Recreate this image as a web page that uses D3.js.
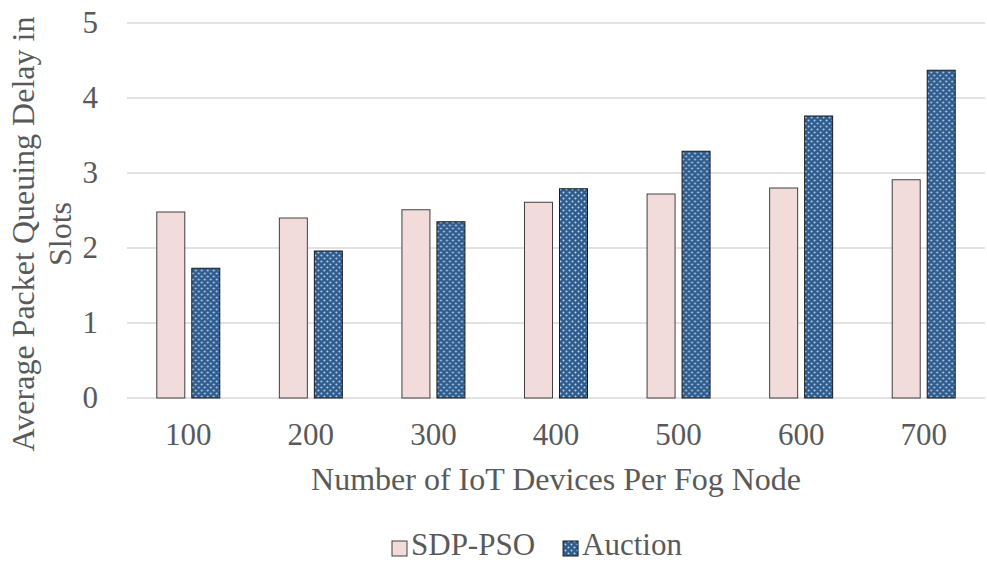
<!DOCTYPE html>
<html lang="en">
<head>
  <meta charset="UTF-8">
  <title>Average Packet Queuing Delay</title>
  <script src="https://d3js.org/d3.v7.min.js"></script>
  <style>
    body { margin: 0; background: #fff; }
    svg { font-family: "Liberation Serif", "Times New Roman", serif; }
    .tick text { fill: #595959; font-size: 31px; font-family: "Liberation Serif", "Times New Roman", serif; }
    .axis-label { fill: #595959; font-size: 32px; font-family: "Liberation Serif", "Times New Roman", serif; }
    .legend-text { fill: #595959; font-size: 31px; font-family: "Liberation Serif", "Times New Roman", serif; }
  </style>
</head>
<body>
  <svg width="987" height="563"></svg>
  <script>
    const categories = ["100", "200", "300", "400", "500", "600", "700"];
    const sdpPso = [2.48, 2.40, 2.51, 2.61, 2.72, 2.80, 2.91];
    const auction = [1.73, 1.96, 2.35, 2.79, 3.29, 3.76, 4.37];
    const seriesNames = ["SDP-PSO", "Auction"];
    const yTicks = [0, 1, 2, 3, 4, 5];

    const svg = d3.select("svg"),
          margin = {top: 23, right: 2, bottom: 165, left: 127},
          width = +svg.attr("width") - margin.left - margin.right,
          height = +svg.attr("height") - margin.top - margin.bottom;

    // dotted fill for the Auction bars
    const defs = svg.append("defs");
    const pat = defs.append("pattern")
      .attr("id", "dots")
      .attr("patternUnits", "userSpaceOnUse")
      .attr("width", 6).attr("height", 6);
    pat.append("rect").attr("width", 6).attr("height", 6).attr("fill", "#2f5b8e");
    pat.append("circle").attr("cx", 1.5).attr("cy", 1.5).attr("r", 1).attr("fill", "#b7d7ea");
    pat.append("circle").attr("cx", 4.5).attr("cy", 4.5).attr("r", 1).attr("fill", "#b7d7ea");

    const fills = ["#f2dcdb", "url(#dots)"];
    const strokes = ["#404040", "#1a1a1a"];

    const g = svg.append("g")
      .attr("transform", `translate(${margin.left},${margin.top})`);

    const x = d3.scaleBand().domain(categories).range([0, width]);
    const y = d3.scaleLinear().domain([0, 5]).range([height, 0]);
    const barW = 28, gap = 7;
    const x1 = d3.scaleOrdinal().domain(seriesNames)
      .range([-(barW + gap / 2), gap / 2]);

    // gridlines
    g.append("g")
      .selectAll("line")
      .data(yTicks)
      .enter().append("line")
        .attr("x1", 0).attr("x2", width)
        .attr("y1", d => y(d)).attr("y2", d => y(d))
        .attr("stroke", "#d9d9d9")
        .attr("stroke-width", 1.5);

    // Y axis
    const yAxis = g.append("g")
      .call(d3.axisLeft(y).tickValues(yTicks).tickSize(0).tickPadding(29).tickFormat(d3.format("d")));
    yAxis.select(".domain").remove();

    // X axis
    const xAxis = g.append("g")
      .attr("transform", `translate(0,${height})`)
      .call(d3.axisBottom(x).tickSize(0).tickPadding(25));
    xAxis.select(".domain").remove();

    // bars
    const data = categories.map((c, i) => ({cat: c, vals: [sdpPso[i], auction[i]]}));
    const groups = g.selectAll(".grp")
      .data(data)
      .enter().append("g")
        .attr("transform", d => `translate(${x(d.cat) + x.bandwidth() / 2},0)`);
    groups.selectAll("rect")
      .data(d => d.vals.map((v, k) => ({name: seriesNames[k], v: v, k: k})))
      .enter().append("rect")
        .attr("x", d => x1(d.name))
        .attr("y", d => y(d.v))
        .attr("width", barW)
        .attr("height", d => height - y(d.v))
        .attr("fill", d => fills[d.k])
        .attr("stroke", d => strokes[d.k])
        .attr("stroke-width", 1);

    // Axis titles
    svg.append("text")
      .attr("class", "axis-label")
      .attr("x", margin.left + width / 2)
      .attr("y", 490)
      .attr("text-anchor", "middle")
      .text("Number of IoT Devices Per Fog Node");

    const yTitle = svg.append("text")
      .attr("class", "axis-label")
      .attr("transform", "translate(0,234) rotate(-90)")
      .attr("text-anchor", "middle");
    yTitle.append("tspan").attr("x", 0).attr("y", 34).text("Average Packet Queuing Delay in");
    yTitle.append("tspan").attr("x", 0).attr("y", 71).text("Slots");

    // legend
    const legend = svg.append("g").attr("transform", "translate(0,555)");
    let cursor = 392;
    seriesNames.forEach((name, k) => {
      legend.append("rect")
        .attr("x", cursor).attr("y", -14)
        .attr("width", 15).attr("height", 15)
        .attr("fill", fills[k])
        .attr("stroke", strokes[k]);
      const t = legend.append("text")
        .attr("class", "legend-text")
        .attr("x", cursor + 19)
        .attr("y", 0)
        .text(name);
      cursor += 19 + t.node().getComputedTextLength() + 28;
    });
  </script>
</body>
</html>
